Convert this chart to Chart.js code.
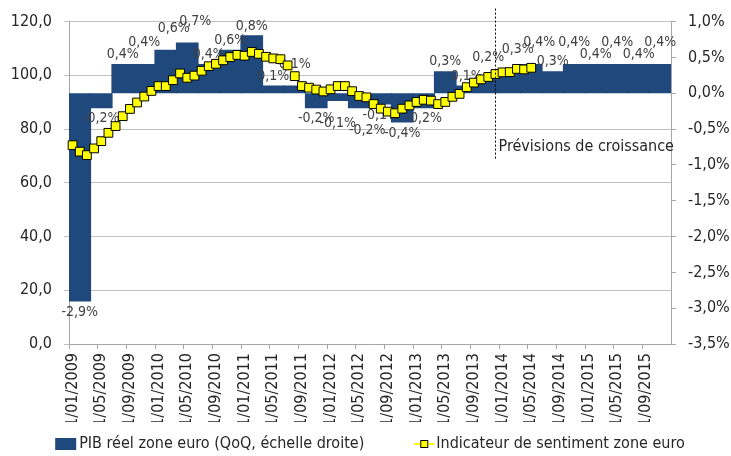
<!DOCTYPE html>
<html lang="fr">
<head>
<meta charset="UTF-8">
<title>PIB réel et sentiment zone euro</title>
<script src="https://cdn.jsdelivr.net/npm/chart.js"></script>
<style>
  html, body { margin: 0; padding: 0; background: #fff; }
</style>
</head>
<body>
<canvas id="chart" width="731" height="456"></canvas>
<script>
// axis years (monthly categories are built from these)
const years = [2009, 2010, 2011, 2012, 2013, 2014, 2015];

// PIB réel zone euro, % QoQ, T1 2009 -> T4 2015 (échelle droite)
const gdpQoQ = [-2.9, -0.2, 0.4, 0.4, 0.6, 0.7, 0.4, 0.6,
                0.8, 0.1, 0.1, -0.2, -0.1, -0.2, -0.15, -0.4,
                -0.2, 0.3, 0.1, 0.2, 0.3, 0.4, 0.3, 0.4,
                0.4, 0.4, 0.4, 0.4];

// Indicateur de sentiment zone euro, mensuel, jan 2009 -> mai 2014
const sentiment = [74.0, 71.6, 70.3, 72.8, 75.5, 78.6, 81.1, 84.8, 87.5, 89.9, 92.1, 94.2,
                   96.0, 96.0, 98.2, 100.7, 99.1, 99.9, 101.7, 103.4, 104.3, 105.6, 106.8, 107.6,
                   107.3, 108.7, 108.0, 106.9, 106.3, 106.0, 103.7, 99.7, 96.0, 95.4, 94.7, 94.0,
                   94.8, 96.0, 96.0, 94.1, 92.3, 91.8, 89.3, 87.6, 86.5, 85.9, 87.6, 88.8,
                   90.1, 90.9, 90.6, 89.3, 90.1, 92.0, 93.1, 95.6, 97.3, 98.5, 99.4, 100.5,
                   101.1, 101.2, 102.4, 102.2, 102.8];

const forecastFrom = '1/12/2013';
const forecastText = 'Prévisions de croissance';
const legendText = ['PIB réel zone euro (QoQ, échelle droite)', 'Indicateur de sentiment zone euro'];

const months = [];
const quarterLabels = [];
years.forEach(y => {
  for (let m = 1; m <= 12; m++) months.push('1/' + String(m).padStart(2, '0') + '/' + y);
  for (let q = 1; q <= 4; q++) quarterLabels.push('T' + q + ' ' + y);
});

const FONT = "'Liberation Sans Narrow', 'Arial Narrow', 'DejaVu Sans Condensed', sans-serif";
const BLUE = '#1f497d';
const YELLOW = '#ffff00';
const fmt = (v, d) => v.toFixed(d).replace('.', ',');

Chart.defaults.font.family = FONT;
Chart.defaults.font.size = 16;
Chart.defaults.color = '#262626';

// % labels on the GDP bars, drawn before the sentiment line.
// when a label hits its left neighbour it is lifted one line, or,
// if the neighbour was already lifted, slid a bit to the right
const barLabels = {
  id: 'barLabels',
  afterDatasetDraw(chart, args) {
    if (args.index !== 0) return;
    const ctx = chart.ctx;
    ctx.save();
    ctx.font = '14px ' + FONT;
    ctx.fillStyle = '#404040';
    ctx.textAlign = 'center';
    ctx.textBaseline = 'middle';
    let prev = null;
    args.meta.data.forEach((bar, i) => {
      const v = gdpQoQ[i];
      const txt = fmt(v, 1) + '%';
      const w = ctx.measureText(txt).width;
      const dir = v < 0 ? 1 : -1;
      let x = bar.x;
      let y = bar.y + dir * (v < 0 ? 11 : 10);
      let lifted = false;
      const hits = () => prev && Math.abs(prev.x - x) < (prev.w + w) / 2 && Math.abs(prev.y - y) < 12;
      if (hits()) {
        if (prev.lifted) x += 8;
        if (hits()) { y += dir * 12; lifted = true; }
      }
      prev = { x, y, w, lifted };
      ctx.fillText(txt, x, y);
    });
    ctx.restore();
  }
};

// dotted forecast marker + custom legend
const extras = {
  id: 'extras',
  afterDraw(chart) {
    const ctx = chart.ctx;
    const area = chart.chartArea;
    const xs = chart.scales.x, ys = chart.scales.y;
    const fx = Math.round(xs.getPixelForValue(months.indexOf(forecastFrom))) + 0.5;
    ctx.save();
    ctx.strokeStyle = '#000';
    ctx.lineWidth = 1;
    ctx.setLineDash([2, 2]);
    ctx.beginPath();
    ctx.moveTo(fx, area.top - 13);
    ctx.lineTo(fx, ys.getPixelForValue(68.5));
    ctx.stroke();
    ctx.setLineDash([]);
    ctx.font = '16px ' + FONT;
    ctx.fillStyle = '#262626';
    ctx.textBaseline = 'middle';
    ctx.fillText(forecastText, fx + 3, ys.getPixelForValue(73.5));

    // legend
    const w1 = ctx.measureText(legendText[0]).width;
    const w2 = ctx.measureText(legendText[1]).width;
    const total = 21 + 3 + w1 + 50 + 20 + 2 + w2;
    let lx = (area.left + area.right) / 2 - total / 2;
    const ly = chart.height - 12;
    ctx.fillStyle = BLUE;
    ctx.fillRect(lx, ly - 6, 21, 12);
    lx += 24;
    ctx.fillStyle = '#262626';
    ctx.fillText(legendText[0], lx, ly);
    lx += w1 + 50;
    ctx.strokeStyle = YELLOW;
    ctx.lineWidth = 2;
    ctx.beginPath();
    ctx.moveTo(lx, ly);
    ctx.lineTo(lx + 20, ly);
    ctx.stroke();
    ctx.fillStyle = YELLOW;
    ctx.strokeStyle = '#000';
    ctx.lineWidth = 1;
    ctx.fillRect(lx + 6.5, ly - 3.5, 7, 7);
    ctx.strokeRect(lx + 6.5, ly - 3.5, 7, 7);
    ctx.fillStyle = '#262626';
    ctx.fillText(legendText[1], lx + 22, ly);
    ctx.restore();
  }
};

new Chart(document.getElementById('chart'), {
  type: 'bar',
  data: {
    labels: months,
    datasets: [{
      type: 'bar',
      label: legendText[0],
      data: gdpQoQ,
      xAxisID: 'x2',
      yAxisID: 'y2',
      backgroundColor: BLUE,
      borderWidth: 0,
      inflateAmount: 0.6,
      grouped: false,
      barPercentage: 1,
      categoryPercentage: 1,
      order: 1
    }, {
      type: 'line',
      label: legendText[1],
      data: sentiment,
      xAxisID: 'x',
      yAxisID: 'y',
      borderColor: YELLOW,
      borderWidth: 2,
      pointStyle: 'rect',
      pointRadius: 6.2,
      pointBackgroundColor: YELLOW,
      pointBorderColor: '#000',
      pointBorderWidth: 1,
      tension: 0,
      order: 0
    }]
  },
  options: {
    responsive: false,
    animation: false,
    layout: { padding: { top: 18, bottom: 34, left: 0, right: 0 } },
    plugins: { legend: { display: false }, tooltip: { enabled: false } },
    scales: {
      x: {
        type: 'category',
        offset: true,
        afterFit: s => { s.height = 78; },
        border: { color: '#a6a6a6' },
        grid: {
          offset: true,
          drawOnChartArea: false,
          tickLength: 5,
          color: c => (c.index !== undefined && c.index % 4 === 0) ? '#a6a6a6' : 'rgba(0,0,0,0)'
        },
        ticks: {
          autoSkip: false,
          minRotation: 90,
          maxRotation: 90,
          padding: 4,
          callback: (v, i) => i % 4 === 0 ? months[i] : ''
        }
      },
      x2: {
        type: 'category',
        labels: quarterLabels,
        offset: true,
        display: false
      },
      y: {
        position: 'left',
        min: 0,
        max: 120,
        afterFit: s => { s.width = 69; },
        border: { color: '#a6a6a6' },
        grid: { color: '#c0c0c0', tickLength: 5 },
        ticks: { stepSize: 20, padding: 12, callback: v => fmt(v, 1) }
      },
      y2: {
        position: 'right',
        min: -3.5,
        max: 1,
        afterFit: s => { s.width = 60; },
        border: { color: '#a6a6a6' },
        grid: { drawOnChartArea: false, color: '#a6a6a6', tickLength: 5 },
        ticks: { stepSize: 0.5, padding: 12, callback: v => fmt(v, 1) + '%' }
      }
    }
  },
  plugins: [barLabels, extras]
});
</script>
</body>
</html>
